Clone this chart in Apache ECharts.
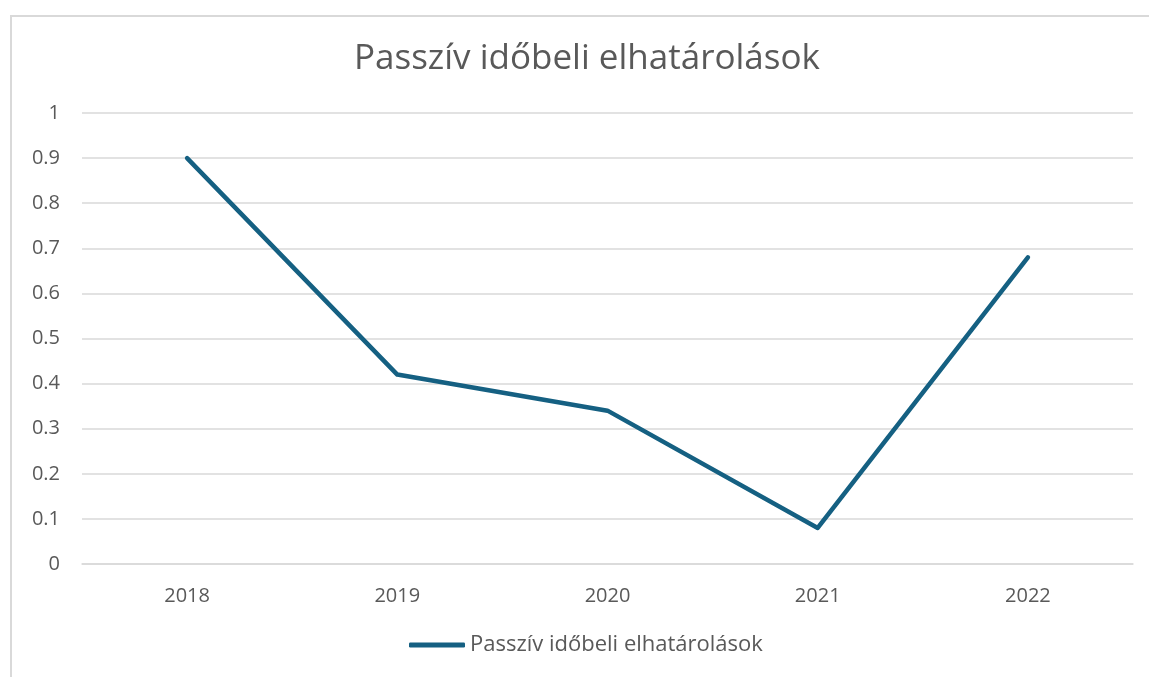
<!DOCTYPE html>
<html>
<head>
<meta charset="utf-8">
<script src="https://cdn.jsdelivr.net/npm/echarts@6/dist/echarts.min.js"></script>
<style>
  html, body { margin: 0; padding: 0; background: #fff; overflow: hidden; }
  #frame { position: absolute; left: 10px; top: 15px; width: 1200px; height: 700px;
           border: 2px solid #d9d9d9; box-sizing: border-box; }
  #chart { position: absolute; left: 0; top: 0; width: 1149px; height: 677px; }
</style>
</head>
<body>
<div id="frame"></div>
<div id="chart"></div>
<script>
var years = ['2018', '2019', '2020', '2021', '2022'];
var values = [0.9, 0.42, 0.34, 0.08, 0.68];
var seriesName = 'Passzív időbeli elhatárolások';
var titleText = 'Passzív időbeli elhatárolások';

var chart = echarts.init(document.getElementById('chart'));
var textColor = '#595959';
var font = '"Open Sans", "Noto Sans", sans-serif';

chart.setOption({
    animation: false,
    backgroundColor: 'transparent',
    title: {
        text: titleText,
        left: 349,
        top: 37,
        textStyle: { fontSize: 35, fontWeight: 'normal', color: textColor, fontFamily: font }
    },
    legend: {
        bottom: 16,
        left: 404,
        icon: 'roundRect',
        itemWidth: 56,
        itemHeight: 5,
        itemGap: 4,
        textStyle: { fontSize: 22, color: textColor, fontFamily: font },
        data: [seriesName]
    },
    grid: { left: 82, right: 16, top: 113, bottom: 113 },
    xAxis: {
        type: 'category',
        data: years,
        boundaryGap: true,
        axisLine: { show: true, lineStyle: { color: '#d9d9d9', width: 1.5 } },
        axisTick: { show: false },
        axisLabel: { color: textColor, fontSize: 20, margin: 22, fontFamily: font }
    },
    yAxis: {
        type: 'value',
        min: 0,
        max: 1,
        interval: 0.1,
        axisLine: { show: false },
        axisTick: { show: false },
        axisLabel: { color: textColor, fontSize: 20, margin: 22, fontFamily: font },
        splitLine: { lineStyle: { color: '#d9d9d9', width: 1.5 } }
    },
    series: [{
        name: seriesName,
        type: 'line',
        data: values,
        symbol: 'none',
        lineStyle: { color: '#156082', width: 4.5, cap: 'round', join: 'round' },
        itemStyle: { color: '#156082' }
    }]
});
</script>
</body>
</html>
